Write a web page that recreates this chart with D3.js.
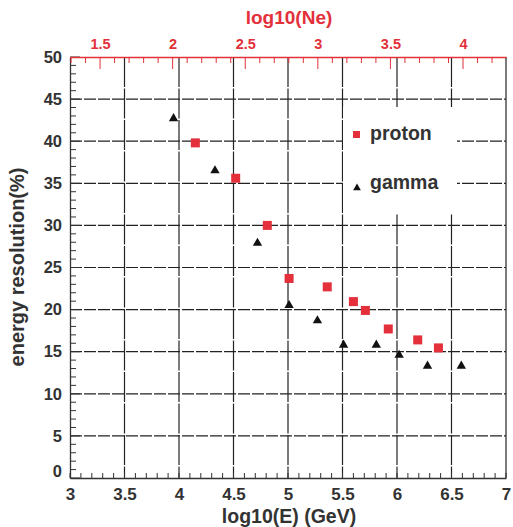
<!DOCTYPE html>
<html><head><meta charset="utf-8">
<script src="https://cdn.jsdelivr.net/npm/d3@7"></script>
<style>body{margin:0;background:#fff;} text{font-family:"Liberation Sans",Arial,sans-serif;font-weight:bold;}</style>
</head><body><svg id="c" width="513" height="527"></svg>
<script>
const protonE = [4.15, 4.52, 4.81, 5.01, 5.36, 5.60, 5.71, 5.92, 6.19, 6.38];
const protonRes = [39.8, 35.6, 30.0, 23.7, 22.7, 20.95, 19.9, 17.7, 16.4, 15.45];
const gammaE = [3.95, 4.33, 4.72, 5.01, 5.27, 5.51, 5.81, 6.02, 6.28, 6.59];
const gammaRes = [42.7, 36.5, 27.9, 20.5, 18.7, 15.8, 15.8, 14.6, 13.3, 13.3];
const xTicks = [3, 3.5, 4, 4.5, 5, 5.5, 6, 6.5, 7];
const yTicks = [0, 5, 10, 15, 20, 25, 30, 35, 40, 45, 50];
const neTicks = [1.5, 2, 2.5, 3, 3.5, 4];
const legendLabels = ["proton", "gamma"];

const red = "#e3303a", ink = "#333";
const L = 70, R = 506, T = 57, B = 478;
const svg = d3.select("#c");
const x = d3.scaleLinear().domain([3, 7]).range([L, R]);
const y = d3.scaleLinear().domain([0, 50]).range([B, T]);
const xNe = d3.scaleLinear().domain([1.293, 4.296]).range([L, R]);

// grid
const g = svg.append("g");
g.selectAll(".hg").data(yTicks.filter(v => v > 0 && v < 50)).join("line")
  .attr("x1", L).attr("x2", R).attr("y1", d => y(d)).attr("y2", d => y(d))
  .attr("stroke", "#222").attr("stroke-width", 1.2).attr("stroke-dasharray", "12,2");
g.selectAll(".vg").data(xTicks.filter(v => v > 3 && v < 7)).join("line")
  .attr("x1", d => x(d)).attr("x2", d => x(d)).attr("y1", T).attr("y2", B)
  .attr("stroke", "#222").attr("stroke-width", 1.2).attr("stroke-dasharray", "30,1.5");

// legend box
svg.append("rect").attr("x", 343).attr("y", 107).attr("width", 114).attr("height", 106).attr("fill", "#fff");

// bottom axis
const xAxis = d3.axisBottom(x).tickValues(xTicks).tickSize(0).tickPadding(10).tickFormat(d3.format(""));
const ax = svg.append("g").attr("transform", `translate(0,${B})`).call(xAxis);
ax.select(".domain").attr("stroke", ink).attr("stroke-width", 1.3);
ax.selectAll("text").attr("font-size", 17).attr("fill", ink);
svg.append("g").selectAll("line").data(d3.range(30, 71).map(v => v / 10)).join("line")
  .attr("x1", d => x(d)).attr("x2", d => x(d)).attr("y1", B).attr("y2", B - 5)
  .attr("stroke", ink).attr("stroke-width", 1);

// left axis
const yAxis = d3.axisLeft(y).tickValues(yTicks).tickSize(0).tickPadding(8);
const ay = svg.append("g").attr("transform", `translate(${L},0)`).call(yAxis);
ay.select(".domain").attr("stroke", ink).attr("stroke-width", 1.3);
ay.selectAll("text").attr("font-size", 16.5).attr("fill", ink);
ay.selectAll(".tick").filter(d => d === 0).select("text").attr("dy", "-0.1em");
svg.append("g").selectAll("line").data(d3.range(0, 51)).join("line")
  .attr("x1", L).attr("x2", d => L + (d % 5 === 0 ? 10 : 6)).attr("y1", d => y(d)).attr("y2", d => y(d))
  .attr("stroke", ink).attr("stroke-width", 1);

// right border
svg.append("line").attr("x1", R).attr("x2", R).attr("y1", T).attr("y2", B).attr("stroke", ink).attr("stroke-width", 1.3);

// top axis (red)
const topAxis = d3.axisTop(xNe).tickValues(neTicks).tickSize(0).tickPadding(9).tickFormat(d3.format(""));
const at = svg.append("g").attr("transform", `translate(0,${T})`).call(topAxis);
at.select(".domain").attr("stroke", red).attr("stroke-width", 1.3);
at.selectAll("text").attr("font-size", 14.5).attr("fill", red).attr("dy", "0.1em");
svg.append("g").selectAll("line").data(d3.range(13, 43).map(v => v / 10)).join("line")
  .attr("x1", d => xNe(d)).attr("x2", d => xNe(d)).attr("y1", T)
  .attr("y2", d => T + (Math.abs(d * 2 - Math.round(d * 2)) < 1e-6 ? 12 : 6))
  .attr("stroke", red).attr("stroke-width", 1);

// data
const sq = 9;
svg.append("g").selectAll("rect").data(protonE.map((e, i) => [e, protonRes[i]])).join("rect")
  .attr("x", d => x(d[0]) - sq / 2).attr("y", d => y(d[1]) - sq / 2)
  .attr("width", sq).attr("height", sq).attr("fill", red);
const tri = d3.symbol().type(d3.symbolTriangle).size(38);
svg.append("g").selectAll("path").data(gammaE.map((e, i) => [e, gammaRes[i]])).join("path")
  .attr("d", tri).attr("transform", d => `translate(${x(d[0])},${y(d[1])})`).attr("fill", "#111");

// legend
svg.append("rect").attr("x", 353).attr("y", 131).attr("width", 7).attr("height", 7).attr("fill", red);
svg.append("path").attr("d", d3.symbol().type(d3.symbolTriangle).size(26)).attr("transform", "translate(357,188)").attr("fill", "#111");
svg.append("text").attr("x", 370).attr("y", 140).attr("font-size", 19.5).attr("fill", ink).text(legendLabels[0]);
svg.append("text").attr("x", 370).attr("y", 189).attr("font-size", 19.5).attr("fill", ink).text(legendLabels[1]);

// titles
svg.append("text").attr("x", 289).attr("y", 523).attr("text-anchor", "middle").attr("font-size", 19.5).attr("fill", ink).text("log10(E) (GeV)");
svg.append("text").attr("x", 289).attr("y", 24).attr("text-anchor", "middle").attr("font-size", 19).attr("fill", red).text("log10(Ne)");
svg.append("text").attr("transform", "translate(24,267) rotate(-90)").attr("text-anchor", "middle").attr("font-size", 20).attr("fill", ink).text("energy resolution(%)");
</script></body></html>
